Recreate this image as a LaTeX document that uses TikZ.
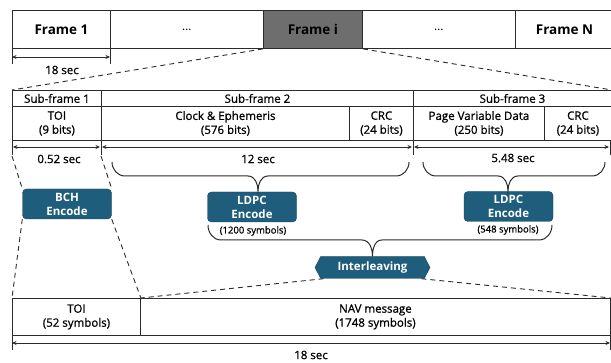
\documentclass[tikz,border=0pt]{standalone}
\usepackage{fontspec}
\setmainfont{Open Sans}
\newfontfamily\medfont{Open Sans}[FakeBold=0.9]
\usetikzlibrary{arrows.meta,shapes.symbols}
\definecolor{linec}{HTML}{2B2B2B}
\definecolor{teal}{HTML}{1F5D7C}
\definecolor{framegray}{HTML}{6E6E6E}
\begin{document}
\begin{tikzpicture}[x=1pt,y=-1pt,
  cell/.style={draw=linec, line width=0.9pt, anchor=north west, inner sep=0pt,
    align=center, text=black, font=\medfont\fontsize{11.5}{14}\selectfont},
  framecell/.style={cell, minimum height=38pt, font=\fontsize{13.5}{15}\bfseries\selectfont},
  hdr/.style={cell, minimum height=16pt},
  fld/.style={cell, minimum height=34pt},
  enc/.style={draw=teal!70!black, fill=teal, rounded corners=4pt, text=white,
    font=\fontsize{11.5}{14}\bfseries\selectfont, align=center, inner sep=0pt,
    minimum width=89pt, minimum height=30pt},
  lbl/.style={inner sep=1pt, font=\medfont\fontsize{11.5}{13}\selectfont, text=black},
  small/.style={inner sep=0pt, font=\medfont\fontsize{9.5}{11}\selectfont, text=black},
  span/.style={{Stealth[length=4.5pt,width=4pt]}-{Stealth[length=4.5pt,width=4pt]}, draw=linec, line width=0.9pt},
  tick/.style={draw=linec, line width=0.9pt},
  zoomline/.style={draw=linec, dash pattern=on 5pt off 4pt, line width=0.9pt},
  bracket/.style={draw=linec, line width=1pt}]
\useasboundingbox (0,0) rectangle (611,363);

% frame sequence
\node[framecell, minimum width=98pt]  (f1) at (12,10)  {Frame 1};
\node[framecell, minimum width=153pt, font=\fontsize{12}{14}\selectfont] (d1) at (110,10) {\dots};
\node[framecell, minimum width=99pt, fill=framegray] (fi) at (263,10) {Frame i};
\node[framecell, minimum width=153pt, font=\fontsize{12}{14}\selectfont] (d2) at (362,10) {\dots};
\node[framecell, minimum width=98pt]  (fN) at (515,10) {Frame N};

% frame duration
\coordinate (t1a) at (12,48);  \coordinate (t1b) at (12,64);
\coordinate (t2a) at (110,48); \coordinate (t2b) at (110,64);
\draw[tick] (t1a) -- (t1b);
\draw[tick] (t2a) -- (t2b);
\coordinate (a1) at (12,57); \coordinate (a2) at (110,57);
\draw[span] (a1) -- (a2);
\node[lbl] (sec18a) at (62,70) {18 sec};

% sub-frame table
\node[hdr, minimum width=89pt]  (sf1) at (12,90)  {Sub-frame 1};
\node[hdr, minimum width=312pt] (sf2) at (101,90) {Sub-frame 2};
\node[hdr, minimum width=198pt] (sf3) at (413,90) {Sub-frame 3};
\node[fld, minimum width=89pt]  (toi)  at (12,106)  {TOI\\(9 bits)};
\node[fld, minimum width=248pt] (ce)   at (101,106) {Clock \& Ephemeris\\(576 bits)};
\node[fld, minimum width=64pt]  (crc1) at (349,106) {CRC\\(24 bits)};
\node[fld, minimum width=131pt] (pvd)  at (413,106) {Page Variable Data\\(250 bits)};
\node[fld, minimum width=67pt]  (crc2) at (544,106) {CRC\\(24 bits)};

% zoom lines from frame i
\draw[zoomline] (fi.south west) -- (sf1.north west);
\draw[zoomline] (fi.south east) -- (sf3.north east);

% sub-frame durations
\foreach \x/\n in {12/u1, 101/u2, 413/u3, 610/u4} {
  \coordinate (\n a) at (\x,140); \coordinate (\n b) at (\x,155);
  \draw[tick] (\n a) -- (\n b);
}
\coordinate (s1a) at (13,147);  \coordinate (s1b) at (100,147);
\coordinate (s2a) at (102,147); \coordinate (s2b) at (412,147);
\coordinate (s3a) at (414,147); \coordinate (s3b) at (609,147);
\draw[span] (s1a) -- (s1b);
\draw[span] (s2a) -- (s2b);
\draw[span] (s3a) -- (s3b);
\node[lbl] (d052) at (59,159)  {0.52 sec};
\node[lbl] (d12)  at (258,159) {12 sec};
\node[lbl] (d548) at (513,158) {5.48 sec};

% encoders
\node[enc] (bch)   at (67,204)  {BCH\\Encode};
\node[enc] (ldpc1) at (252,207) {LDPC\\Encode};
\node[enc] (ldpc2) at (508.5,206.5) {LDPC\\Encode};
\node[small] (sym1) at (253,231) {(1200 symbols)};
\node[small] (sym2) at (508,230) {(548 symbols)};

% gathering brackets
\coordinate (b2l) at (112,162); \coordinate (b2t) at (258,191); \coordinate (b2r) at (409,162);
\draw[bracket] (b2l) to[out=-90,in=180] (125,176) -- (248,176)
  to[out=0,in=90] (b2t) to[out=90,in=180] (268,176) -- (396,176)
  to[out=0,in=-90] (b2r);
\coordinate (b3l) at (423,162); \coordinate (b3t) at (508,191); \coordinate (b3r) at (605,162);
\draw[bracket] (b3l) to[out=-90,in=180] (436,176) -- (498,176)
  to[out=0,in=90] (b3t) to[out=90,in=180] (518,176) -- (592,176)
  to[out=0,in=-90] (b3r);

% interleaver
\node[signal, signal to=west and east, signal pointer angle=125,
  draw=teal!70!black, fill=teal, text=white, inner sep=0pt,
  font=\fontsize{11.5}{13}\bfseries\selectfont,
  minimum width=115pt, minimum height=22pt] (il) at (372.5,267.5) {Interleaving};

\coordinate (b4l) at (208,225); \coordinate (b4r) at (552,225);
\draw[bracket] (b4l) to[out=-90,in=180] (221,240) -- (362,240)
  to[out=0,in=90] (il.north) to[out=90,in=180] (382,240) -- (539,240)
  to[out=0,in=-90] (b4r);

% output table
\node[fld, minimum width=128pt, minimum height=37pt] (toi2) at (12,298)  {TOI\\(52 symbols)};
\node[fld, minimum width=470pt, minimum height=37pt] (nav)  at (140,298) {NAV message\\(1748 symbols)};

% zoom lines around the BCH encoder
\coordinate (z1) at (12,156); \coordinate (z2) at (101,156);
\draw[zoomline] (z1) -- (bch.north west);
\draw[zoomline] (z2) -- (bch.north east);
\draw[zoomline] (bch.south west) -- (toi2.north west);
\draw[zoomline] (bch.south east) -- (toi2.north east);
% zoom lines from the interleaver
\draw[zoomline] ([xshift=3pt]il.south west) -- (toi2.north east);
\draw[zoomline] ([xshift=-3pt]il.south east) -- (nav.north east);

% message duration
\coordinate (m1a) at (12,335); \coordinate (m1b) at (12,350);
\coordinate (m2a) at (610,335); \coordinate (m2b) at (610,350);
\draw[tick] (m1a) -- (m1b);
\draw[tick] (m2a) -- (m2b);
\coordinate (m1) at (12,343); \coordinate (m2) at (610,343);
\draw[span] (m1) -- (m2);
\node[lbl] (sec18b) at (311,355) {18 sec};
\end{tikzpicture}
\end{document}
